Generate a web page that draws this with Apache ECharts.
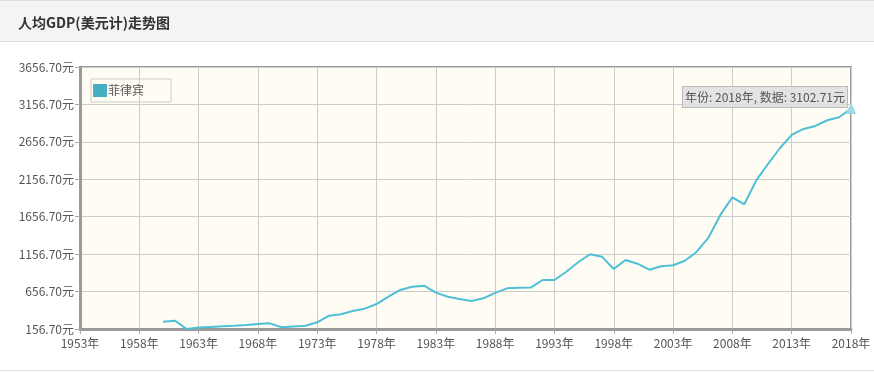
<!DOCTYPE html>
<html><head><meta charset="utf-8">
<script src="https://cdn.jsdelivr.net/npm/echarts@6/dist/echarts.min.js"></script>
<style>html,body{margin:0;padding:0;background:#fff;}#c{width:874px;height:373px;}</style>
</head><body><div id="c"></div>
<script>
var titleText = '人均GDP(美元计)走势图';
var seriesName = '菲律宾';
var years = [];
for (var y = 1953; y <= 2018; y++) years.push(y + '年');
var values = [
  null, null, null, null, null, null, null,           // 1953-1959
  254, 268, 156, 176, 185, 192, 200, 210, 223, 232,   // 1960-1969
  180, 190, 200, 246, 334, 353, 397, 428, 490, 588,   // 1970-1979
  678, 722, 735, 642, 588, 557, 531, 567, 640, 700,   // 1980-1989
  708, 710, 811, 811, 922, 1048, 1155, 1123, 958, 1078, // 1990-1999
  1029, 949, 994, 1008, 1069, 1189, 1382, 1684, 1916, 1823, // 2000-2009
  2138, 2361, 2571, 2749, 2829, 2869, 2945, 2985, 3102.71  // 2010-2018
];
var yMin = 156.7, yMax = 3656.7, yStep = 500;

var chart = echarts.init(document.getElementById('c'));
var font = '"Noto Sans CJK SC", "Noto Sans", sans-serif';
chart.setOption({
  animation: false,
  graphic: [
    {type: 'rect', shape: {x: 0, y: 0, width: 874, height: 41}, style: {fill: '#f4f4f4'}, z: -10},
    {type: 'rect', shape: {x: 0, y: 0, width: 874, height: 1}, style: {fill: '#e0e0e0'}, z: -9},
    {type: 'rect', shape: {x: 0, y: 41, width: 874, height: 1}, style: {fill: '#dddddd'}, z: -9},
    {type: 'rect', shape: {x: 0, y: 370, width: 874, height: 1}, style: {fill: '#e3e3e3'}, z: -9}
  ],
  title: {
    text: titleText, left: 13, top: 11,
    textStyle: {fontFamily: font, fontSize: 14, fontWeight: 'bold', color: '#333'}
  },
  legend: {
    data: [{name: seriesName, icon: 'rect'}],
    left: 91, top: 79, orient: 'vertical',
    itemWidth: 14, itemHeight: 13, itemGap: 2,
    padding: [5, 27, 5, 2],
    borderColor: '#ccc', borderWidth: 1,
    textStyle: {fontFamily: font, fontSize: 12, color: '#555', padding: [0, 0, 0, -4]}
  },
  tooltip: {
    trigger: 'axis', alwaysShowContent: true, showDelay: 0, transitionDuration: 0,
    axisPointer: {type: 'none'},
    backgroundColor: 'rgba(222,222,222,0.85)', borderColor: '#bbb', borderWidth: 1,
    padding: [1, 2], extraCssText: 'border-radius:0;box-shadow:none;',
    textStyle: {fontFamily: font, fontSize: 12, color: '#555'},
    position: function () { return [682, 86]; },
    formatter: function (ps) {
      var p = ps[0];
      return '年份: ' + p.name + ', 数据: ' + Number(p.value).toFixed(2) + '元';
    }
  },
  grid: {
    left: 80, right: 23, top: 67, bottom: 44,
    show: true, backgroundColor: '#fffcf4', borderColor: '#9a9a9a', borderWidth: 2
  },
  xAxis: {
    type: 'category', data: years, boundaryGap: false,
    axisLine: {lineStyle: {color: '#9a9a9a', width: 3}},
    axisTick: {show: true, interval: 4, length: 5, lineStyle: {color: '#aaa'}},
    axisLabel: {interval: 4, color: '#555', fontFamily: font, fontSize: 12, margin: 8},
    splitLine: {show: true, interval: 4, lineStyle: {color: '#ccc'}}
  },
  yAxis: {
    type: 'value', min: yMin, max: yMax, interval: yStep,
    axisLine: {show: true, lineStyle: {color: '#9a9a9a', width: 3}},
    axisTick: {show: true, length: 5, lineStyle: {color: '#aaa'}},
    axisLabel: {color: '#555', fontFamily: font, fontSize: 12, margin: 6,
      formatter: function (v) { return v.toFixed(2) + '元'; }},
    splitLine: {show: true, lineStyle: {color: '#ccc'}}
  },
  series: [{
    name: seriesName, type: 'line', data: values,
    showSymbol: false, symbol: 'triangle', symbolSize: 10,
    itemStyle: {color: '#46afc4'},
    lineStyle: {color: '#46afc4', width: 2},
    emphasis: {itemStyle: {color: '#9fd9e3'}}
  }]
});
chart.dispatchAction({type: 'showTip', seriesIndex: 0, dataIndex: values.length - 1});
chart.dispatchAction({type: 'highlight', seriesIndex: 0, dataIndex: values.length - 1});
</script></body></html>
